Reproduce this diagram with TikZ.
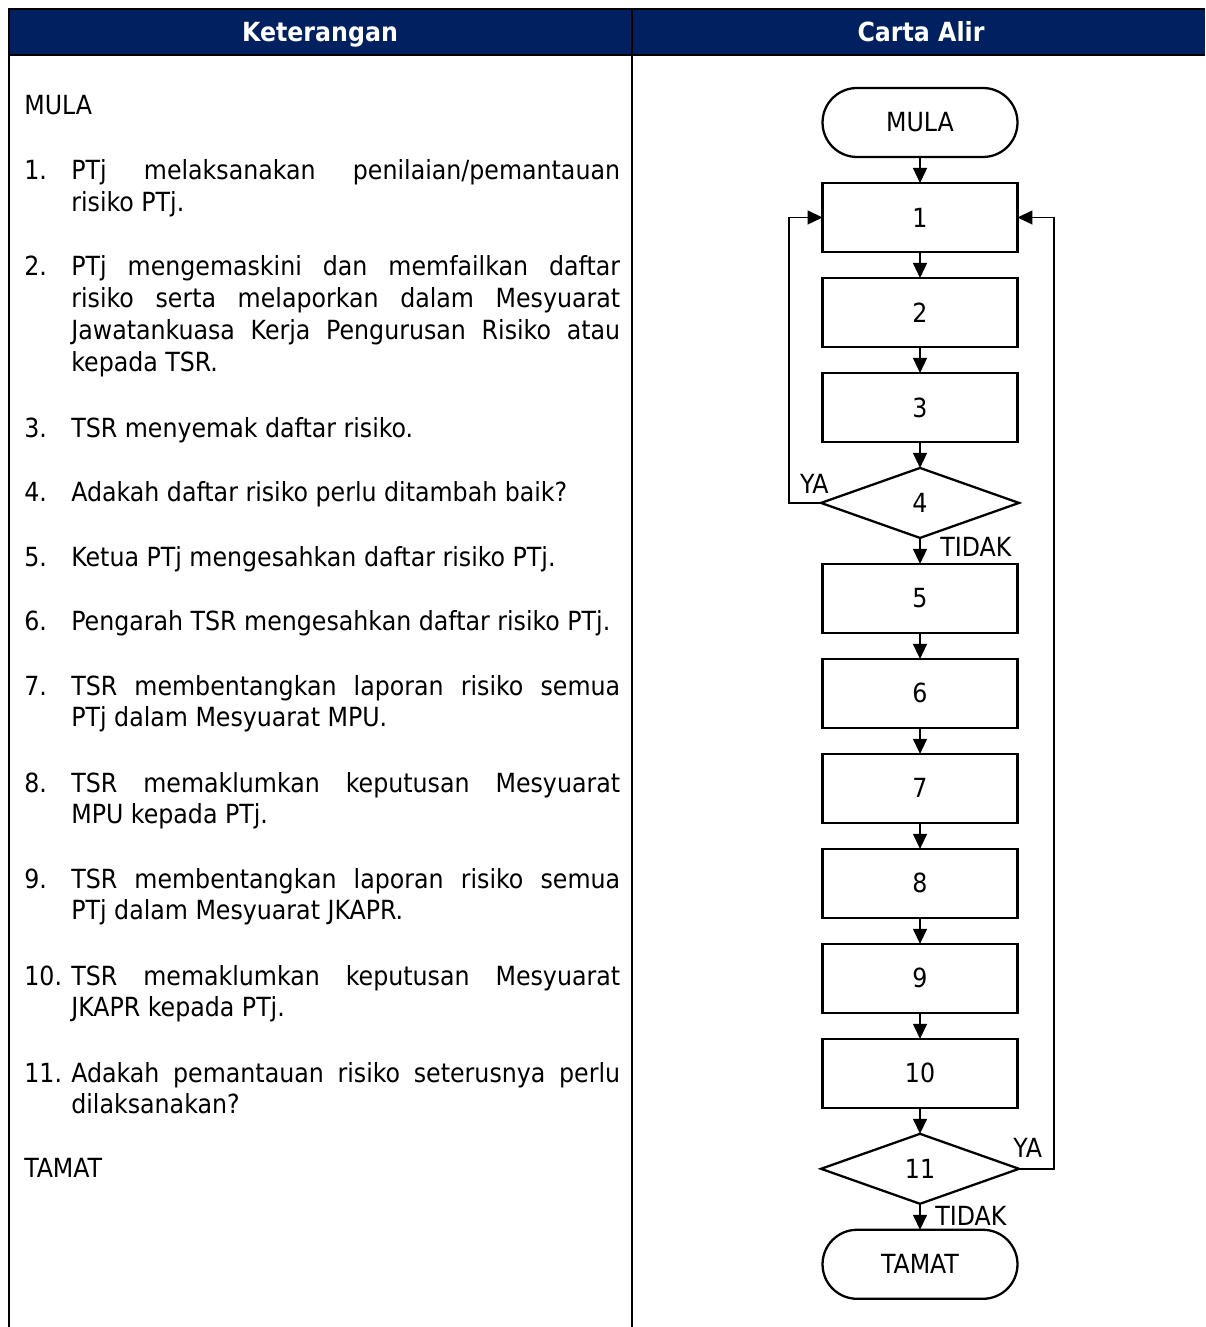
\documentclass[tikz,border=0pt]{standalone}
\usepackage{fontspec}
\setmainfont{DejaVu Sans Condensed}
\usepackage{tikz}
\usetikzlibrary{positioning, arrows.meta, shapes.geometric}
\definecolor{navy}{HTML}{002060}
\hyphenpenalty=10000
\exhyphenpenalty=10000
\tolerance=9999
\newcommand{\ketfont}{\fontsize{15}{18.1}\selectfont}
\tikzset{
  proc/.style={draw, line width=1.3pt, minimum width=3.9cm, minimum height=1.38cm,
               inner sep=0pt, outer sep=0pt, font=\ketfont},
  term/.style={proc, rounded corners=0.69cm},
  dec/.style={draw, diamond, line width=1.3pt, minimum width=3.96cm, minimum height=1.4cm,
              inner sep=0pt, outer sep=0pt, font=\ketfont},
  ar/.style={-{Triangle[length=0.3cm, width=0.28cm]}, line width=0.8pt},
  lbl/.style={inner sep=0pt, font=\ketfont},
  num/.style={anchor=base west, inner sep=0pt, font=\ketfont},
  ket/.style={anchor=base west, inner sep=0pt, text width=10.98cm, align=justify, font=\ketfont},
  hdr/.style={anchor=base, text=white, inner sep=0pt, font=\ketfont\bfseries},
  grid/.style={line width=0.8pt},
}

\begin{document}
\begin{tikzpicture}[x=0.02cm, y=-0.02cm, node distance=0.52cm]
  \useasboundingbox (0,0) rectangle (1205,1327);

  % table frame
  \fill[navy] (9,9) rectangle (1205,55);
  \draw[grid] (9,1327) -- (9,9) -- (1205,9);
  \draw[grid] (9,55) -- (1205,55);
  \draw[grid] (632,9) -- (632,1327);
  \node[hdr] (hket) at (320,42) {Keterangan};
  \node[hdr] (halir) at (921,42) {Carta Alir};

  % keterangan
  \node[num] (n0) at (24,115) {MULA};
  \node[num] (n1) at (24,180) {1.};
  \node[ket] (k1) at (71,180) {PTj melaksanakan penilaian/pemantauan risiko PTj.};
  \node[num] (n2) at (24,276) {2.};
  \node[ket] (k2) at (71,276) {PTj mengemaskini dan memfailkan daftar risiko serta melaporkan dalam Mesyuarat Jawatankuasa Kerja Pengurusan Risiko atau kepada TSR.};
  \node[num] (n3) at (24,437) {3.};
  \node[ket] (k3) at (71,437) {TSR menyemak daftar risiko.};
  \node[num] (n4) at (24,501) {4.};
  \node[ket] (k4) at (71,501) {Adakah daftar risiko perlu ditambah baik?};
  \node[num] (n5) at (24,566) {5.};
  \node[ket] (k5) at (71,566) {Ketua PTj mengesahkan daftar risiko PTj.};
  \node[num] (n6) at (24,630) {6.};
  \node[ket] (k6) at (71,630) {Pengarah TSR mengesahkan daftar risiko PTj.};
  \node[num] (n7) at (24,695) {7.};
  \node[ket] (k7) at (71,695) {TSR membentangkan laporan risiko semua\linebreak PTj dalam Mesyuarat MPU.};
  \node[num] (n8) at (24,792) {8.};
  \node[ket] (k8) at (71,792) {TSR memaklumkan keputusan Mesyuarat\linebreak MPU kepada PTj.};
  \node[num] (n9) at (24,888) {9.};
  \node[ket] (k9) at (71,888) {TSR membentangkan laporan risiko semua\linebreak PTj dalam Mesyuarat JKAPR.};
  \node[num] (n10) at (24,985) {10.};
  \node[ket] (k10) at (71,985) {TSR memaklumkan keputusan Mesyuarat JKAPR kepada PTj.};
  \node[num] (n11) at (24,1082) {11.};
  \node[ket] (k11) at (71,1082) {Adakah pemantauan risiko seterusnya perlu dilaksanakan?};
  \node[num] (n12) at (24,1177) {TAMAT};

  % carta alir
  \node[term] (mula) at (920,122.5) {MULA};
  \node[proc, below=of mula] (p1) {1};
  \node[proc, below=of p1] (p2) {2};
  \node[proc, below=of p2] (p3) {3};
  \node[dec, below=of p3] (d4) {4};
  \node[proc, below=of d4] (p5) {5};
  \node[proc, below=of p5] (p6) {6};
  \node[proc, below=of p6] (p7) {7};
  \node[proc, below=of p7] (p8) {8};
  \node[proc, below=of p8] (p9) {9};
  \node[proc, below=of p9] (p10) {10};
  \node[dec, below=of p10] (d11) {11};
  \node[term, below=of d11] (tamat) {TAMAT};

  \draw[ar] (mula) -- (p1);
  \draw[ar] (p1) -- (p2);
  \draw[ar] (p2) -- (p3);
  \draw[ar] (p3) -- (d4);
  \draw[ar] (d4) -- (p5);
  \draw[ar] (p5) -- (p6);
  \draw[ar] (p6) -- (p7);
  \draw[ar] (p7) -- (p8);
  \draw[ar] (p8) -- (p9);
  \draw[ar] (p9) -- (p10);
  \draw[ar] (p10) -- (d11);
  \draw[ar] (d11) -- (tamat);
  % ya: back to 1
  \draw[ar] (d4.west) -- ++(-32,0) |- (p1.west);
  \draw[ar] (d11.east) -- ++(35,0) |- (p1.east);

  \node[lbl, anchor=south east] (ya4) at ([shift={(8,-9)}]d4.west) {YA};
  \node[lbl, anchor=west] (td4) at ([shift={(20,9)}]d4.south) {TIDAK};
  \node[lbl, anchor=south west] (ya11) at ([shift={(-6,-11)}]d11.east) {YA};
  \node[lbl, anchor=west] (td11) at ([shift={(15,12)}]d11.south) {TIDAK};
\end{tikzpicture}
\end{document}
